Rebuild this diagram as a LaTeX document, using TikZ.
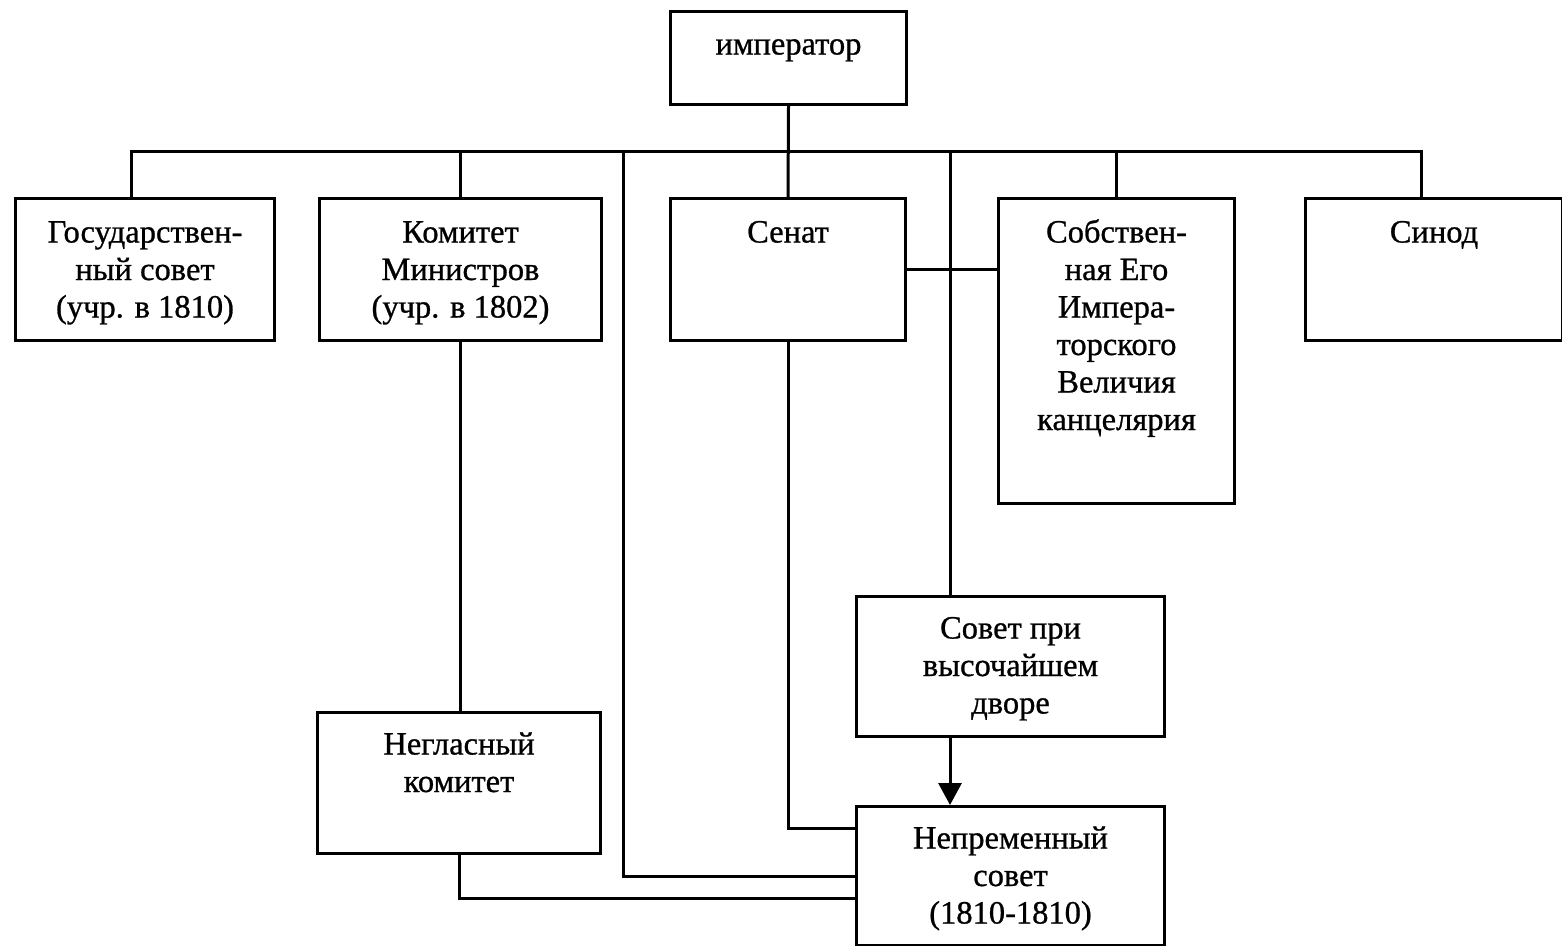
\documentclass[tikz,border=0pt]{standalone}
\usepackage{fontspec}
\setmainfont{Liberation Serif}
\newfontfamily\scanfont{Liberation Serif}[FakeBold=0.8]
\usetikzlibrary{arrows.meta}
\begin{document}
\begin{tikzpicture}[x=1pt,y=-1pt, line width=3pt,
  box/.style={draw, rectangle, inner sep=0pt, anchor=north west},
  lbl/.style={inner sep=0pt, anchor=north, align=center, font=\scanfont\fontsize{32.5}{37.5}\selectfont},
  arr/.style={-{Triangle[length=22pt,width=23pt]}}]
\useasboundingbox (0,0) rectangle (1562,945);
% boxes
\node[box, minimum width=236pt, minimum height=93pt]  (imp)   at (669,10)  {};
\node[box, minimum width=259pt, minimum height=142pt] (gos)   at (14,197)  {};
\node[box, minimum width=282pt, minimum height=142pt] (kom)   at (318,197) {};
\node[box, minimum width=235pt, minimum height=142pt] (senat) at (669,197) {};
\node[box, minimum width=236pt, minimum height=305pt] (sobst) at (997,197) {};
\node[box, minimum width=257pt, minimum height=142pt] (sinod) at (1304,197) {};
\node[box, minimum width=308pt, minimum height=140pt] (sovet) at (855,595) {};
\node[box, minimum width=283pt, minimum height=141pt] (neg)   at (316,711) {};
\node[box, minimum width=308pt, minimum height=139pt] (nep)   at (855,805) {};
% texts
\node[lbl] (impT)   at ([yshift=-13pt]imp.north)   {\rule{0pt}{30pt}император};
\node[lbl] (gosT)   at ([yshift=-14pt]gos.north)   {\rule{0pt}{30pt}Государствен-\\ный совет\\(учр. в 1810)};
\node[lbl] (komT)   at ([yshift=-14pt]kom.north)   {\rule{0pt}{30pt}Комитет\\Министров\\(учр. в 1802)};
\node[lbl] (senatT) at ([yshift=-14pt]senat.north) {\rule{0pt}{30pt}Сенат};
\node[lbl] (sobstT) at ([yshift=-14pt]sobst.north) {\rule{0pt}{30pt}Собствен-\\ная Его\\Импера-\\торского\\Величия\\канцелярия};
\node[lbl] (sinodT) at ([yshift=-14pt]sinod.north) {\rule{0pt}{30pt}Синод};
\node[lbl] (sovetT) at ([yshift=-12pt]sovet.north) {\rule{0pt}{30pt}Совет при\\высочайшем\\дворе};
\node[lbl] (negT)   at ([yshift=-12pt]neg.north)   {\rule{0pt}{30pt}Негласный\\комитет};
\node[lbl] (nepT)   at ([yshift=-12pt]nep.north)   {\rule{0pt}{30pt}Непременный\\совет\\(1810-1810)};
% helper coordinates
\coordinate (bus)  at (0,151);
\coordinate (gosC) at ([xshift=117pt]gos.north west);
\coordinate (sinC) at ([xshift=117pt]sinod.north west);
\coordinate (c623) at (623,151);
\coordinate (c950) at (950,151);
\coordinate (y828) at (0,828);
\coordinate (y898) at (0,898);
% connectors
\draw (imp.south) -- (senat.north);
\draw (gosC) |- (bus -| sinC) -- (sinC);
\draw (kom.north) -- (kom.north |- bus);
\draw (sobst.north) -- (sobst.north |- bus);
\draw (senat.east) -- (senat.east -| sobst.west);
\draw (c950) -- (c950 |- sovet.north);
\draw[arr] (c950 |- sovet.south) -- (c950 |- nep.north);
\draw (c623) |- (nep.west);
\draw (kom.south) -- (kom.south |- neg.north);
\draw (senat.south) |- (y828 -| nep.west);
\draw (neg.south) |- (y898 -| nep.west);
\end{tikzpicture}
\end{document}
